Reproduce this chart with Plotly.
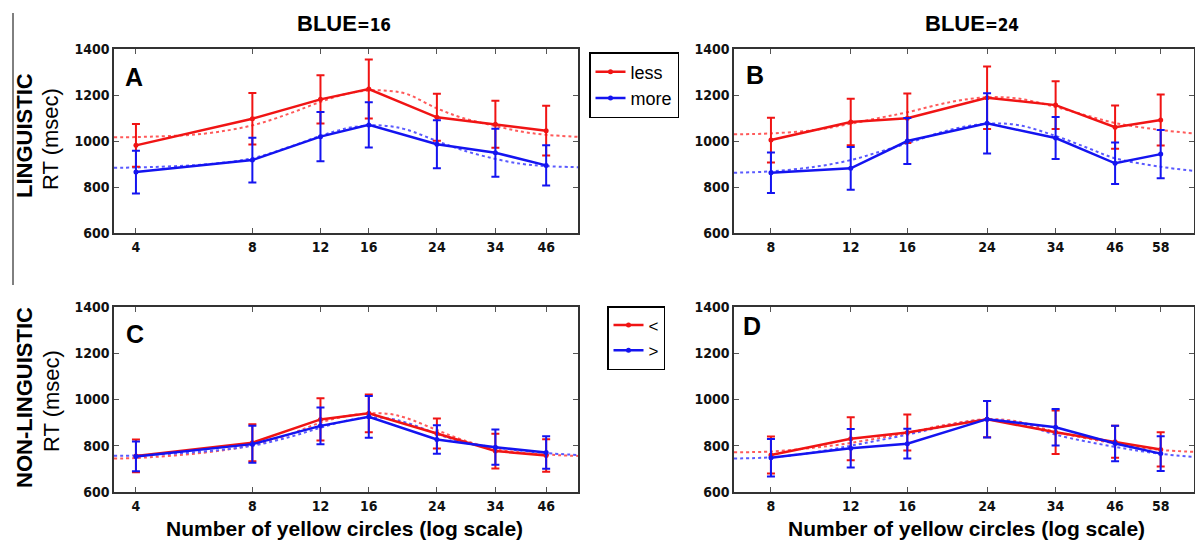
import math
import plotly.graph_objects as go

# ---------------- data ----------------
# Panel A : BLUE=16, linguistic
xA = [4, 8, 12, 16, 24, 34, 46]
A_less = [981, 1097, 1181, 1226, 1103, 1073, 1045]
A_less_err = [93, 112, 105, 128, 102, 102, 108]
A_more = [865, 917, 1019, 1070, 986, 949, 894]
A_more_err = [93, 97, 107, 98, 104, 104, 88]
fitA_x = [3.51, 4, 6, 8, 10, 12, 14, 16, 18, 20, 24, 28, 34, 40, 46, 55.6]
fitA_less = [1016, 1017, 1032, 1068, 1120, 1170, 1205, 1220, 1218, 1205, 1142, 1100, 1065, 1040, 1027, 1018]
fitA_more = [884, 885, 898, 925, 975, 1022, 1055, 1068, 1065, 1050, 1000, 960, 922, 900, 891, 886]

# Panel B : BLUE=24, linguistic
xB = [8, 12, 16, 24, 34, 46, 58]
B_less = [1004, 1083, 1099, 1188, 1156, 1060, 1091]
B_less_err = [97, 101, 108, 136, 104, 94, 111]
B_more = [862, 881, 1000, 1077, 1013, 903, 943]
B_more_err = [88, 93, 100, 131, 91, 90, 105]
fitB_x = [6.63, 8, 10, 12, 14, 16, 20, 24, 28, 34, 40, 46, 58, 68.7]
fitB_less = [1029, 1033, 1048, 1075, 1102, 1125, 1170, 1190, 1185, 1148, 1110, 1078, 1048, 1033]
fitB_more = [862, 868, 888, 917, 955, 990, 1050, 1075, 1070, 1022, 970, 925, 888, 870]

# Panel C : BLUE=16, non-linguistic
xC = [4, 8, 12, 16, 24, 34, 46]
C_lt = [756, 813, 914, 940, 853, 777, 758]
C_lt_err = [71, 80, 91, 82, 65, 75, 70]
C_gt = [754, 807, 886, 925, 827, 794, 771]
C_gt_err = [64, 80, 79, 90, 62, 76, 70]
fitC_x = [3.51, 4, 6, 8, 10, 12, 14, 16, 18, 20, 24, 28, 34, 40, 46, 55.6]
fitC_lt = [745, 747, 770, 803, 850, 900, 928, 940, 938, 920, 868, 825, 786, 770, 762, 756]
fitC_gt = [757, 758, 775, 800, 838, 878, 908, 922, 918, 900, 852, 815, 793, 778, 768, 760]

# Panel D : BLUE=24, non-linguistic
xD = [8, 12, 16, 24, 34, 46, 58]
D_lt = [760, 830, 857, 915, 858, 817, 784]
D_lt_err = [80, 93, 78, 78, 94, 69, 74]
D_gt = [748, 789, 809, 915, 880, 810, 766]
D_gt_err = [81, 83, 64, 79, 79, 77, 75]
fitD_x = [6.63, 8, 10, 12, 16, 20, 24, 28, 34, 46, 58, 68.7]
fitD_lt = [772, 775, 792, 812, 856, 895, 915, 905, 860, 810, 782, 774]
fitD_gt = [745, 750, 772, 800, 848, 890, 912, 900, 848, 795, 765, 752]

y_ticks = [600, 800, 1000, 1200, 1400]

# ---------------- styling ----------------
W, H = 1195, 541
MT, MB = 8, 8            # vertical margins (plot area spans MT .. H-MB)
PH = H - MT - MB
RED, BLUE = "#f01414", "#1414f0"
RED_FIT, BLUE_FIT = "#ff5a5a", "#5a5aff"
TICK_FONT = dict(family="Liberation Sans Narrow, DejaVu Sans Condensed, Arial Narrow, sans-serif",
                 size=14, color="#111", weight="bold")
BOLD = "Liberation Sans, Arial, sans-serif"

def px_x(p):
    return p / W

def px_y(p):
    return 1 - (p - MT) / PH

# pixel boxes of the panels: (left, right, top, bottom)
boxes = {
    1: (114, 578, 49, 233),
    2: (734, 1194, 49, 233),
    3: (114, 578, 307, 492),
    4: (734, 1194, 307, 492),
}
# log x ranges (data units at left/right frame)
xranges = {1: (3.51, 55.6), 2: (6.63, 68.7), 3: (3.51, 55.6), 4: (6.63, 68.7)}

fig = go.Figure()

def add_panel(i, xs, y1, e1, y2, e2, fx, f1, f2, names, legend, showleg):
    xa = "x" if i == 1 else f"x{i}"
    ya = "y" if i == 1 else f"y{i}"
    fig.add_trace(go.Scatter(x=fx, y=f1, mode="lines", line=dict(color=RED_FIT, width=2, dash="dot", shape="spline"),
                             xaxis=xa, yaxis=ya, showlegend=False, hoverinfo="skip"))
    fig.add_trace(go.Scatter(x=fx, y=f2, mode="lines", line=dict(color=BLUE_FIT, width=2, dash="dot", shape="spline"),
                             xaxis=xa, yaxis=ya, showlegend=False, hoverinfo="skip"))
    fig.add_trace(go.Scatter(x=xs, y=y1, mode="lines+markers", name=names[0],
                             line=dict(color=RED, width=2.5), marker=dict(color=RED, size=5),
                             error_y=dict(type="data", array=e1, color=RED, thickness=2, width=4),
                             xaxis=xa, yaxis=ya, showlegend=showleg, legend=legend))
    fig.add_trace(go.Scatter(x=xs, y=y2, mode="lines+markers", name=names[1],
                             line=dict(color=BLUE, width=2.5), marker=dict(color=BLUE, size=5),
                             error_y=dict(type="data", array=e2, color=BLUE, thickness=2, width=4),
                             xaxis=xa, yaxis=ya, showlegend=showleg, legend=legend))

add_panel(1, xA, A_less, A_less_err, A_more, A_more_err, fitA_x, fitA_less, fitA_more, ["less", "more"], "legend", True)
add_panel(2, xB, B_less, B_less_err, B_more, B_more_err, fitB_x, fitB_less, fitB_more, ["less", "more"], "legend", False)
add_panel(3, xC, C_lt, C_lt_err, C_gt, C_gt_err, fitC_x, fitC_lt, fitC_gt, ["&lt;", "&gt;"], "legend2", True)
add_panel(4, xD, D_lt, D_lt_err, D_gt, D_gt_err, fitD_x, fitD_lt, fitD_gt, ["&lt;", "&gt;"], "legend2", False)

xticks = {1: xA, 2: xB, 3: xC, 4: xD}
layout = {}
for i in range(1, 5):
    l, r, t, b = boxes[i]
    sx = "xaxis" if i == 1 else f"xaxis{i}"
    sy = "yaxis" if i == 1 else f"yaxis{i}"
    ya = "y" if i == 1 else f"y{i}"
    xa = "x" if i == 1 else f"x{i}"
    layout[sx] = dict(domain=[px_x(l), min(1.0, px_x(r))], anchor=ya, type="log",
                      range=[math.log10(xranges[i][0]), math.log10(xranges[i][1])],
                      tickmode="array", tickvals=xticks[i], ticktext=[str(v) for v in xticks[i]],
                      ticks="inside", ticklen=5, tickcolor="#555", mirror="ticks",
                      showline=True, linecolor="#333", linewidth=1.5, showgrid=False, zeroline=False,
                      tickfont=TICK_FONT, automargin=False)
    layout[sy] = dict(domain=[px_y(b), px_y(t)], anchor=xa, range=[600, 1400],
                      tickmode="array", tickvals=y_ticks, ticktext=[str(v) for v in y_ticks],
                      ticks="inside", ticklen=5, tickcolor="#555", mirror="ticks",
                      showline=True, linecolor="#333", linewidth=1.5, showgrid=False, zeroline=False,
                      tickfont=TICK_FONT, automargin=False)

def ann(text, cx, cy, size, angle=0, family=BOLD):
    return dict(text=text, x=px_x(cx), y=px_y(cy), xref="paper", yref="paper",
                xanchor="center", yanchor="middle", showarrow=False, textangle=angle,
                font=dict(family=family, size=size, color="black"))

annotations = []
for letter, (cx, cy) in {"A": (134, 77), "B": (755, 75), "C": (135, 334), "D": (752, 326)}.items():
    annotations.append(ann(f"<b>{letter}</b>", cx, cy, 25))
for txt, cx in [("16", 344), ("24", 972)]:
    annotations.append(ann(
        f"<b>BLUE</b><span style='font-family:Liberation Sans Narrow, DejaVu Sans Condensed;font-size:17px'><b>={txt}</b></span>",
        cx, 24, 22))
for txt, cy in [("LINGUISTIC", 136), ("NON-LINGUISTIC", 398)]:
    annotations.append(ann(f"<b>{txt}</b>", 24, cy, 22, -90))
    annotations.append(ann("RT (msec)", 51, cy + 3, 22, -90))
for cx in [344, 966]:
    annotations.append(ann("<b>Number of yellow circles (log scale)</b>", cx, 528, 21))

shapes = [dict(type="line", xref="paper", yref="paper", x0=px_x(13), x1=px_x(13), y0=px_y(13), y1=px_y(285),
               line=dict(color="black", width=1))]

fig.update_layout(
    width=W, height=H, autosize=False,
    margin=dict(l=0, r=0, t=MT, b=MB, autoexpand=False),
    paper_bgcolor="white", plot_bgcolor="white",
    annotations=annotations, shapes=shapes,
    legend=dict(x=px_x(589), y=px_y(52), xanchor="left", yanchor="top",
                bordercolor="black", borderwidth=1.5, bgcolor="white",
                font=dict(family="Liberation Sans, Arial, sans-serif", size=18, color="black"),
                tracegroupgap=0, itemwidth=30),
    legend2=dict(x=px_x(607), y=px_y(306), xanchor="left", yanchor="top",
                 bordercolor="black", borderwidth=1.5, bgcolor="white",
                 font=dict(family="Liberation Sans, Arial, sans-serif", size=17, color="black"),
                 tracegroupgap=0, itemwidth=30),
    **layout,
)

fig.write_html("out.html")
